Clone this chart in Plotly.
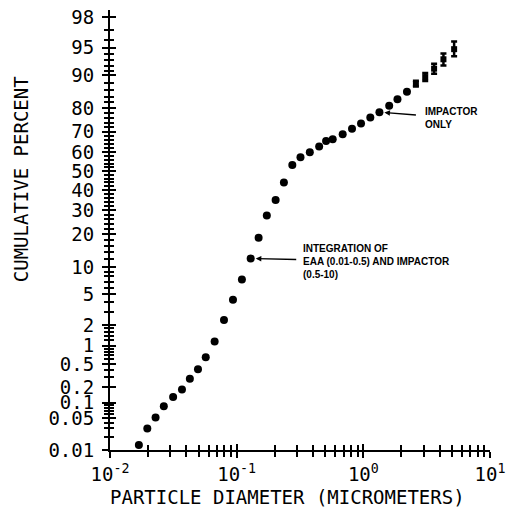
import statistics
import plotly.graph_objects as go

# ---------------- data ----------------
DIAMETER_UM = [0.0169, 0.0197, 0.0229, 0.0266, 0.0315, 0.037, 0.0427, 0.0495, 0.057,
               0.067, 0.0794, 0.0935, 0.110, 0.129, 0.149, 0.173, 0.203, 0.236, 0.275,
               0.319, 0.378, 0.448, 0.508, 0.573, 0.687, 0.814, 0.959, 1.135, 1.34,
               1.60, 1.86, 2.21]
CUM_PERCENT = [0.013, 0.030, 0.051, 0.086, 0.13, 0.18, 0.28, 0.41, 0.65,
               1.15, 2.35, 4.3, 7.4, 12.2, 18.7, 27.7, 35.0, 44.0, 53.3,
               57.3, 59.9, 62.8, 65.6, 66.4, 68.8, 71.4, 73.7, 76.3, 78.4,
               80.8, 83.1, 85.5]

# points drawn with error-bar ("I") markers
ERR_DIAMETER_UM = [2.60, 3.08, 3.62, 4.29, 5.21]
ERR_PERCENT = [87.8, 89.5, 91.4, 93.2, 94.8]
ERR_LOW = [87.0, 88.5, 90.3, 92.05, 93.7]
ERR_HIGH = [88.6, 90.45, 92.4, 94.17, 95.8]

Y_MAJOR = [0.01, 0.05, 0.1, 0.2, 0.5, 1, 2, 5, 10, 20, 30, 40, 50, 60, 70, 80, 90, 95, 98]
Y_MAJOR_TEXT = ["0.01", "0.05", "0.1", "0.2", "0.5", "1", "2", "5", "10", "20", "30",
                "40", "50", "60", "70", "80", "90", "95", "98"]
Y_MINOR = [0.02, 0.03, 0.04, 0.06, 0.07, 0.08, 0.09, 0.3, 0.4, 0.6, 0.7, 0.8, 0.9,
           1.2, 1.4, 1.6, 1.8, 3, 4, 6, 7, 8, 9, 12, 14, 16, 18, 22, 24, 26, 28,
           32, 34, 36, 38, 42, 44, 46, 48, 52, 54, 56, 58, 62, 64, 66, 68, 72, 74,
           76, 78, 82, 84, 86, 88, 91, 92, 93, 94, 96, 97]
X_MAJOR = [0.01, 0.1, 1, 10]
X_MAJOR_TEXT = ["10<sup>-2</sup>", "10<sup>-1</sup>", "10<sup>0</sup>", "10<sup>1</sup>"]
X_MINOR = [0.02, 0.03, 0.04, 0.05, 0.06, 0.07, 0.08, 0.09,
           0.2, 0.3, 0.4, 0.5, 0.6, 0.7, 0.8, 0.9,
           2, 3, 4, 5, 6, 7, 8, 9]

# ---------------- probability-scale transform ----------------
ND = statistics.NormalDist()


def prob(p):
    return ND.inv_cdf(p / 100.0)


Y_RANGE = [prob(0.01), 2.148]
X_RANGE = [-2, 1]

PLOT_FONT = "DejaVu Sans Mono"
NOTE_FONT = "Liberation Sans, Arial, sans-serif"

fig = go.Figure()

fig.add_trace(go.Scatter(
    x=DIAMETER_UM, y=[prob(v) for v in CUM_PERCENT], mode="markers",
    marker=dict(color="black", size=8, symbol="circle"),
    cliponaxis=False, showlegend=False, hoverinfo="skip"))

fig.add_trace(go.Scatter(
    x=ERR_DIAMETER_UM, y=[prob(v) for v in ERR_PERCENT], mode="markers",
    marker=dict(color="black", size=6, symbol="square"),
    error_y=dict(type="data", symmetric=False,
                 array=[prob(h) - prob(v) for h, v in zip(ERR_HIGH, ERR_PERCENT)],
                 arrayminus=[prob(v) - prob(l) for l, v in zip(ERR_LOW, ERR_PERCENT)],
                 color="black", thickness=2.5, width=3),
    cliponaxis=False, showlegend=False, hoverinfo="skip"))

# dummy trace so the overlay axes (inner half of the cross ticks) get drawn
fig.add_trace(go.Scatter(x=[None], y=[None], xaxis="x2", yaxis="y2",
                         showlegend=False, hoverinfo="skip"))

tickfont = dict(family=PLOT_FONT, size=19, color="black")

# the page body adds an 8px offset, so the figure is 8px smaller than the window
fig.update_layout(
    width=508, height=507,
    margin=dict(l=102, r=26, t=2, b=65, autoexpand=False),
    paper_bgcolor="white", plot_bgcolor="white",
    showlegend=False,
    xaxis=dict(type="log", range=X_RANGE, showgrid=False, zeroline=False,
               showline=True, linecolor="black", linewidth=2,
               ticks="outside", ticklen=6, tickwidth=1.5, tickcolor="black",
               tickvals=X_MAJOR, ticktext=X_MAJOR_TEXT, tickfont=tickfont,
               ticklabeloverflow="allow",
               minor=dict(tickvals=X_MINOR, ticks="outside", ticklen=5,
                          tickwidth=1.5, tickcolor="black", showgrid=False)),
    yaxis=dict(range=Y_RANGE, showgrid=False, zeroline=False,
               showline=True, linecolor="black", linewidth=2,
               ticks="outside", ticklen=6, tickwidth=1.5, tickcolor="black",
               tickvals=[prob(v) for v in Y_MAJOR], ticktext=Y_MAJOR_TEXT,
               tickfont=tickfont, ticklabelstandoff=4, ticklabeloverflow="allow",
               minor=dict(tickvals=[prob(v) for v in Y_MINOR], ticks="outside",
                          ticklen=4, tickwidth=1.5, tickcolor="black", showgrid=False)),
    xaxis2=dict(type="log", range=X_RANGE, overlaying="x", anchor="y2", side="bottom",
                showgrid=False, zeroline=False, showline=False,
                ticks="inside", ticklen=6, tickwidth=1.5, tickcolor="black",
                tickvals=X_MAJOR, showticklabels=False,
                minor=dict(tickvals=X_MINOR, ticks="inside", ticklen=5,
                           tickwidth=1.5, tickcolor="black", showgrid=False)),
    yaxis2=dict(range=Y_RANGE, overlaying="y", anchor="x2", side="left",
                showgrid=False, zeroline=False, showline=False,
                ticks="inside", ticklen=6, tickwidth=1.5, tickcolor="black",
                tickvals=[prob(v) for v in Y_MAJOR], showticklabels=False,
                minor=dict(tickvals=[prob(v) for v in Y_MINOR], ticks="inside",
                           ticklen=4, tickwidth=1.5, tickcolor="black", showgrid=False)),
)

title_font = dict(family=PLOT_FONT, size=19, color="black")
fig.add_annotation(text="PARTICLE DIAMETER (MICROMETERS)", xref="paper", yref="paper",
                   x=0.466, y=-0.107, xanchor="center", yanchor="middle",
                   showarrow=False, font=title_font)
fig.add_annotation(text="CUMULATIVE PERCENT", xref="paper", yref="paper",
                   x=-0.232, y=0.615, xanchor="center", yanchor="middle",
                   textangle=-90, showarrow=False, font=title_font)

note_font = dict(family=NOTE_FONT, size=10, color="black")
# arrow: IMPACTOR ONLY
fig.add_annotation(x=0.127, y=prob(78.4), xref="x", yref="y", text="",
                   showarrow=True, ax=38, ay=3, arrowhead=2, arrowsize=0.8,
                   arrowwidth=1.4, arrowcolor="black", standoff=5)
fig.add_annotation(x=0.47, y=0.711, xref="x", yref="y",
                   text="<b>IMPACTOR<br>ONLY</b>", align="left",
                   xanchor="left", yanchor="middle", showarrow=False, font=note_font)
# arrow: INTEGRATION OF ...
fig.add_annotation(x=-0.889, y=prob(12.2), xref="x", yref="y", text="",
                   showarrow=True, ax=47, ay=1, arrowhead=2, arrowsize=0.8,
                   arrowwidth=1.4, arrowcolor="black", standoff=5)
fig.add_annotation(x=-0.4925, y=-1.199, xref="x", yref="y",
                   text="<b>INTEGRATION OF<br>EAA (0.01-0.5) AND IMPACTOR<br>(0.5-10)</b>",
                   align="left", xanchor="left", yanchor="middle",
                   showarrow=False, font=note_font)

fig.write_html("out.html")
